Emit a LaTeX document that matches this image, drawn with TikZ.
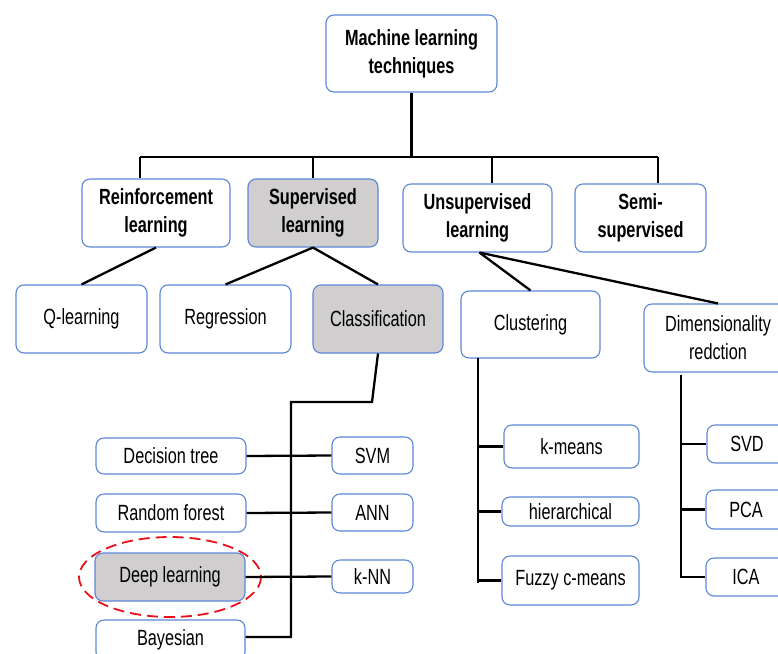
\documentclass[tikz,border=0pt]{standalone}
\usepackage{fontspec}
\setmainfont{Liberation Sans}[FakeStretch=0.74]
\begin{document}
\begin{tikzpicture}[x=1pt,y=-1pt,
  box/.style={draw=boxblue, line width=1.1pt, rounded corners=8pt, fill=white, align=center, inner sep=0pt},
  head/.style={box, font=\fontsize{22}{28}\selectfont\bfseries},
  item/.style={box, font=\fontsize{22}{28}\selectfont},
  shaded/.style={fill=boxgray},
  link/.style={line width=2.3pt, black},
  redring/.style={draw=markred, dash pattern=on 11pt off 6pt, line width=1.8pt}
]
\definecolor{boxblue}{HTML}{5B86D6}
\definecolor{boxgray}{HTML}{D0CECE}
\definecolor{markred}{HTML}{E8101C}
\useasboundingbox (0,0) rectangle (778,653);
\clip (0,0) rectangle (778,653);

% level 0
\node[head, minimum width=171pt, minimum height=77pt] (ml) at (411.5,53.5) {Machine learning\\techniques};
% level 1
\node[head, minimum width=148pt, minimum height=68pt] (rl) at (156,213) {Reinforcement\\learning};
\node[head, shaded, minimum width=130pt, minimum height=68pt] (sl) at (313,213) {Supervised\\learning};
\node[head, minimum width=149pt, minimum height=68pt] (ul) at (477.5,218) {Unsupervised\\learning};
\node[head, minimum width=131pt, minimum height=68pt] (ss) at (640.5,218) {Semi-\\supervised};
% level 2
\node[item, minimum width=131pt, minimum height=68pt] (ql) at (81.5,319) {Q-learning};
\node[item, minimum width=131pt, minimum height=68pt] (rg) at (225.5,319) {Regression};
\node[item, shaded, minimum width=130pt, minimum height=68pt] (cl) at (378,319) {Classification};
\node[item, minimum width=139pt, minimum height=67pt] (cu) at (530.5,324.5) {Clustering};
\node[item, minimum width=148pt, minimum height=68pt] (dr) at (718,338) {Dimensionality\\redction};
% classification leaves
\node[item, minimum width=150pt, minimum height=36pt] (dt) at (171,456) {Decision tree};
\node[item, minimum width=81pt, minimum height=37pt] (svm) at (372.5,455.5) {SVM};
\node[item, minimum width=150pt, minimum height=38pt] (rf) at (171,513) {Random forest};
\node[item, minimum width=81pt, minimum height=37pt] (ann) at (372.5,512.5) {ANN};
\node[item, shaded, minimum width=150pt, minimum height=48pt] (dl) at (170,577) {Deep learning};
\node[item, minimum width=81pt, minimum height=33pt] (knn) at (372.5,576.5) {k-NN};
\node[item, minimum width=149pt, minimum height=40pt] (bay) at (170.5,640) {Bayesian};
% clustering leaves
\node[item, minimum width=135pt, minimum height=43pt] (km) at (571.5,446.5) {k-means};
\node[item, minimum width=137pt, minimum height=29pt] (hi) at (570.5,511.5) {hierarchical};
\node[item, minimum width=137pt, minimum height=49pt] (fz) at (570.5,580.5) {Fuzzy c-means};
% dimensionality leaves
\node[item, minimum width=80pt, minimum height=38pt] (svd) at (747,444) {SVD};
\node[item, minimum width=80pt, minimum height=39pt] (pca) at (746,509.5) {PCA};
\node[item, minimum width=80pt, minimum height=38pt] (ica) at (746,577) {ICA};

% highlight
\draw[redring] (dl.center) ellipse [x radius=91, y radius=40];

% top bus
\coordinate (bl) at (140,157);
\coordinate (br) at (658,157);
\coordinate (bu) at (492,157);
\draw[link] (ml.south) -- (ml.south |- bl);
\draw[link] (bl) -- (br);
\draw[link] (bl) -- (bl |- rl.north);
\draw[link] (sl.north |- bl) -- (sl.north);
\draw[link] (bu) -- (bu |- ul.north);
\draw[link] (br) -- (br |- ss.north);

% level 1 to level 2
\draw[link] (rl.south) -- (ql.north);
\draw[link] (sl.south) -- (rg.north);
\draw[link] (sl.south) -- (cl.north);
\draw[link] ([xshift=2pt]ul.south) -- (cu.north);
\draw[link] ([xshift=2pt]ul.south) -- (dr.north);

% classification tree
\coordinate (c1) at (372,402);
\coordinate (c2) at (291,402);
\coordinate (c3) at (291,637);
\draw[link] (cl.south) -- (c1) -- (c2) -- (c3) -- (c3 -| bay.east);
\draw[link] (dt.east) -- (svm.west);
\draw[link] (rf.east) -- (ann.west);
\draw[link] (dl.east) -- (knn.west);

% clustering tree
\coordinate (k0) at (478,358);
\coordinate (k1) at (478,583);
\draw[link] (k0) -- (k1);
\draw[link] (km.west -| k0) -- (km.west);
\draw[link] (hi.west -| k0) -- (hi.west);
\draw[link] (fz.west -| k0) -- (fz.west);

% dimensionality tree
\coordinate (d0) at (681,375);
\coordinate (d1) at (681,578);
\draw[link] (d0) -- (d1);
\draw[link] (svd.west -| d0) -- (svd.west);
\draw[link] (pca.west -| d0) -- (pca.west);
\draw[link] (ica.west -| d0) -- (ica.west);
\end{tikzpicture}
\end{document}
